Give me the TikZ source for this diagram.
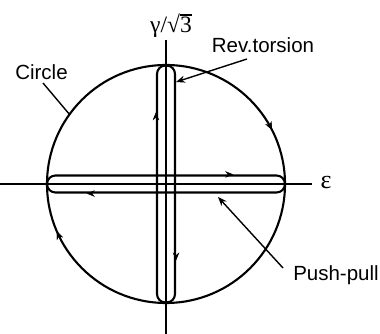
\documentclass[tikz,border=0pt]{standalone}
\usepackage{fontspec}
\setmainfont{Liberation Sans}
\newfontfamily\grk{Liberation Serif}
\usetikzlibrary{decorations.markings,arrows.meta}
\begin{document}
\begin{tikzpicture}[x=1pt,y=1pt,
  lbl/.style={font=\fontsize{20.5}{24}\selectfont, inner sep=0pt},
  shape line/.style={line width=2.1pt},
  axis line/.style={line width=1.5pt},
  leader/.style={line width=1.4pt, -{Stealth[length=9pt,width=7pt]}},
  plainleader/.style={line width=1.4pt},
  stad/.style={draw, shape line, rectangle, rounded corners=8.5pt, inner sep=0pt},
  markat/.style={postaction={decorate}, decoration={markings,
     mark=at position #1 with {\arrow{Stealth[length=8pt,width=6.5pt]}}}}
]
\useasboundingbox (0,0) rectangle (380,334);

% axes
\coordinate (xl) at (0,150);
\coordinate (xr) at (312,150);
\coordinate (yb) at (166,0);
\coordinate (yt) at (166,294);
\draw[axis line] (xl) -- (xr);
\draw[axis line] (yb) -- (yt);

% circle (clockwise)
\coordinate (ctop) at (166,269);
\draw[shape line, markat=0.175, markat=0.685]
  (ctop) arc[start angle=90, end angle=-270, radius=119];

% stadiums
\node[stad, minimum width=238pt, minimum height=17pt] (hs) at (166,150) {};
\node[stad, minimum width=18pt, minimum height=237pt] (vs) at (166,150) {};

% direction marks on the stadium edges
\path[markat=0.78] (hs.north west) -- (hs.north east);
\path[markat=0.83] (hs.south east) -- (hs.south west);
\path[markat=0.80] (vs.south west) -- (vs.north west);
\path[markat=0.82] (vs.north east) -- (vs.south east);

% labels
\node[inner sep=0pt, font=\fontsize{26}{30}\selectfont] (eps) at (326,151) {\grk ε};
\node[inner sep=0pt, anchor=base, font=\fontsize{23.5}{28}\selectfont\grk] (gam) at (171,301)
  {γ/√\rlap{\rule[0.74em]{0.5em}{0.05em}}3};
\node[lbl] (rev) at (263,289) {Rev.torsion};
\node[lbl] (cir) at (41.5,262) {Circle};
\node[lbl] (pp) at (336,59) {Push-pull};

% leaders
\coordinate (revs) at (247,275);
\coordinate (revt) at (176,252);
\draw[leader] (revs) -- (revt);
\coordinate (cirs) at (43,251);
\coordinate (cirt) at (70,219);
\draw[plainleader] (cirs) -- (cirt);
\coordinate (pps) at (283,66);
\coordinate (ppt) at (218,137);
\draw[leader] (pps) -- (ppt);
\end{tikzpicture}
\end{document}
